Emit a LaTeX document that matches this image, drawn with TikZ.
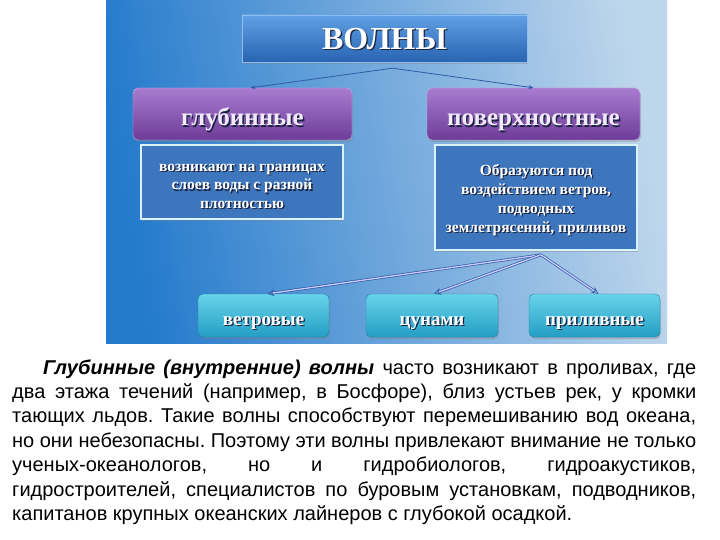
\documentclass[tikz,border=0pt]{standalone}
\usepackage{fontspec}
\setmainfont{Liberation Serif}
\newfontfamily\parafont{Liberation Sans}
\usetikzlibrary{positioning}
\usetikzlibrary{arrows.meta}
\usetikzlibrary{shadows}

\definecolor{panelL}{RGB}{36,122,204}
\definecolor{panelR}{RGB}{190,214,236}
\definecolor{waveT}{RGB}{96,160,228}
\definecolor{waveB}{RGB}{40,100,178}
\definecolor{kindT}{RGB}{168,124,208}
\definecolor{kindB}{RGB}{110,60,152}
\definecolor{kindtxt}{RGB}{242,234,250}
\definecolor{descfill}{RGB}{62,118,190}
\definecolor{subT}{RGB}{104,212,234}
\definecolor{subB}{RGB}{36,158,196}
\definecolor{subline}{RGB}{30,128,160}
\definecolor{linkcol}{RGB}{48,92,165}
\definecolor{txtshadow}{RGB}{25,35,65}

% text with a small dark shadow
\newcommand{\shtxt}[1]{\leavevmode\rlap{\kern1.3pt\raisebox{-1.3pt}{\color{txtshadow}#1}}#1}

\tikzset{%
  topbox/.style = {rectangle,draw=waveT!70!white,top color=waveT,bottom color=waveB,
        minimum width=285pt,minimum height=47pt,text=white,text depth=0pt,
        font=\fontsize{32}{36}\selectfont\bfseries,
        drop shadow={shadow xshift=1pt,shadow yshift=-2pt,opacity=0.35}},
  kindbox/.style = {rectangle,rounded corners=5pt,draw=kindT!60!white,
        top color=kindT,bottom color=kindB,minimum height=52pt,text=kindtxt,
        text height=24pt,text depth=0pt,font=\fontsize{25}{28}\selectfont\bfseries,
        drop shadow={shadow xshift=1pt,shadow yshift=-2pt,opacity=0.35}},
  descbox/.style = {rectangle,draw=white!85!cyan,line width=1.6pt,fill=descfill,
        minimum width=202pt,text=white,align=center,
        drop shadow={shadow xshift=1pt,shadow yshift=-2pt,opacity=0.4}},
  subbox/.style = {rectangle,rounded corners=5pt,draw=subline,top color=subT,
        bottom color=subB,minimum height=43pt,text=white,
        text height=19pt,text depth=0pt,font=\fontsize{19}{22}\selectfont\bfseries,
        drop shadow={shadow xshift=1pt,shadow yshift=-2pt,opacity=0.35}},
  thinarrow/.style = {-{Stealth[length=5pt,width=4pt]},draw=linkcol,line width=0.8pt},
  dblarrow/.style = {-{Stealth[open,length=7pt,width=7pt]},draw=linkcol,
        double=white!80!blue,double distance=1.3pt,line width=0.7pt},
  para/.style = {inner sep=0pt,anchor=base west,text=black,
        font=\parafont\fontsize{20}{24}\selectfont\frenchspacing}
}

\begin{document}
\begin{tikzpicture}[x=1pt,y=-1pt]
  \useasboundingbox (0,0) rectangle (720,540);
  \fill[white] (0,0) rectangle (720,540);
  \shade[left color=panelL,right color=panelR,shading angle=100]
    (106,0) rectangle (667,343);

  % diagram
  \node[topbox] (wave) at (384.5,38.5) {\shtxt{ВОЛНЫ}};
  \node[kindbox,minimum width=219pt] (deep) at (242.5,114) {\shtxt{глубинные}};
  \node[kindbox,minimum width=213pt] (surf) at (533.5,114) {\shtxt{поверхностные}};
  \node[descbox,minimum height=74pt,font=\fontsize{15.5}{18.5}\selectfont\bfseries]
    (deepdesc) at (242,182)
    {\rule{0pt}{17pt}\shtxt{возникают на границах}\\\shtxt{слоев воды с разной}\\\shtxt{плотностью}};
  \node[descbox,minimum height=105pt,font=\fontsize{15.5}{19}\selectfont\bfseries]
    (surfdesc) at (536,197.5)
    {\rule{0pt}{17pt}\shtxt{Образуются под}\\\shtxt{воздействием ветров,}\\\shtxt{подводных}\\\shtxt{землетрясений, приливов}};
  \node[subbox,minimum width=131pt] (wind) at (263.5,315.5) {\shtxt{ветровые}};
  \node[subbox,minimum width=132pt] (tsun) at (432,315.5) {\shtxt{цунами}};
  \node[subbox,minimum width=131pt] (tide) at (594.5,315.5) {\shtxt{приливные}};

  \coordinate (fork) at ([shift={(8,6)}]wave.south);
  \coordinate (split) at ([shift={(5,4)}]surfdesc.south);
  \draw[thinarrow] (fork) -- ([xshift=8pt]deep.north);
  \draw[thinarrow] (fork) -- (surf.north);
  \draw[dblarrow] (split) -- ([xshift=4pt]wind.north);
  \draw[dblarrow] (split) -- ([xshift=2pt]tsun.north);
  \draw[dblarrow] (split) -- ([xshift=4pt]tide.north);

  % paragraph
  \node[para] (l1) at (43,374) {\makebox[653pt][s]{\textbf{\textit{Глубинные (внутренние) волны}} часто возникают в проливах, где}};
  \node[para] (l2) at (12,398.4) {\makebox[684pt][s]{два этажа течений (например, в Босфоре), близ устьев рек, у кромки}};
  \node[para] (l3) at (12,422.8) {\makebox[684pt][s]{тающих льдов. Такие волны способствуют перемешиванию вод океана,}};
  \node[para] (l4) at (12,447.2) {\makebox[684pt][s]{но они небезопасны. Поэтому эти волны привлекают внимание не только}};
  \node[para] (l5) at (12,471.6) {\makebox[684pt][s]{ученых-океанологов, но и гидробиологов, гидроакустиков,}};
  \node[para] (l6) at (12,496) {\makebox[684pt][s]{гидростроителей, специалистов по буровым установкам, подводников,}};
  \node[para] (l7) at (12,520.4) {капитанов крупных океанских лайнеров с глубокой осадкой.};
\end{tikzpicture}
\end{document}
